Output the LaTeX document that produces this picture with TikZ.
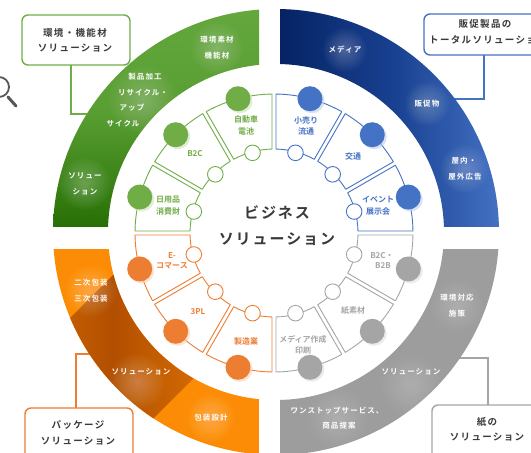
\documentclass[tikz,border=0pt]{standalone}
\usepackage{fontspec}
\setmainfont{Noto Sans CJK JP}[BoldFont={* Bold}]
\newfontfamily\jpb{Noto Sans CJK JP Bold}
\usetikzlibrary{shadings}
\definecolor{cg}{HTML}{70AD47}
\definecolor{cb}{HTML}{4472C4}
\definecolor{co}{HTML}{ED7D31}
\definecolor{cy}{HTML}{A5A5A5}
\definecolor{ink}{HTML}{3A3A3A}
\tikzset{
  bandtxt/.style={text=white,font=\fontsize{7.5}{8.5}\jpb\addfontfeature{LetterSpace=14},inner sep=0pt},
  innertxt/.style={font=\fontsize{8}{9}\jpb,inner sep=0pt},
  boxtxt/.style={text=ink,font=\fontsize{9.5}{11}\jpb\addfontfeature{LetterSpace=14},inner sep=0pt},
  titletxt/.style={text=ink,font=\fontsize{15}{17}\jpb\addfontfeature{LetterSpace=13},inner sep=0pt},
  callout/.style={draw=#1,line width=1.4pt,fill=white,rounded corners=6pt},
  lead/.style={draw=#1,line width=1.1pt}
}
% \seg{angle from}{angle to}{colour}
\newcommand{\seg}[3]{%
  \draw[#3,line width=.9pt,fill=white,line join=round]
    (#1+.82:139) arc[start angle=#1+.82,end angle=#2-.82,radius=139]
    -- (#2-1.36:84) arc[start angle=#2-1.36,end angle=#1+1.36,radius=84] -- cycle;
  \fill[#3!35,opacity=.6] ({(#1+#2)/2}:139) ++(2,-2) circle[radius=12.5];
  \fill[#3] ({(#1+#2)/2}:139) circle[radius=12.5];
  \draw[#3,line width=.9pt,fill=white] ({(#1+#2)/2}:83) circle[radius=7.8];
}
\newcommand{\ringpath}{(276,-232) circle[radius=223] (276,-232) circle[radius=168]}
\begin{document}
\begin{tikzpicture}[x=1pt,y=1pt]
\useasboundingbox (0,-453) rectangle (531,0);
\clip (0,-453) rectangle (531,0);
\fill[white] (0,-453) rectangle (531,0);

% magnifier
\draw[ink!85,line width=1.8pt] (-1,-87) circle[radius=10];
\draw[ink!85,line width=3pt,line cap=round] (8,-97) -- (16,-106);

% leader lines and callouts (under the bands)
\draw[lead=cg] (71,-60) -- (71,-114) -- (100,-114);
\draw[lead=cb] (484,-50) -- (484,-99) -- (445,-99);
\draw[lead=co] (76,-412) -- (76,-354) -- (102,-354);
\draw[lead=cy] (488,-410) -- (488,-358) -- (445,-358);
\draw[callout=cg] (22,-15) rectangle (130,-65);
\draw[callout=cb] (424,-14) rectangle (560,-55);
\draw[callout=co] (25,-408) rectangle (133,-480);
\draw[callout=cy] (432,-405) rectangle (560,-480);

% bands
\begin{scope}
\clip (0,0) rectangle (259,-226);
\begin{scope}[even odd rule]
\clip \ringpath;
\shade[bottom color={rgb,255:red,40;green,112;blue,5},
       top color={rgb,255:red,100;green,168;blue,62},
       middle color={rgb,255:red,88;green,158;blue,50}]
  (40,0) rectangle (259,-226);
\end{scope}
\end{scope}
\begin{scope}
\clip (280,0) rectangle (531,-226);
\begin{scope}[even odd rule]
\clip \ringpath;
\shade[shading angle=-45,
  left color={rgb,255:red,5;green,35;blue,100},
  right color={rgb,255:red,72;green,118;blue,200},
  middle color={rgb,255:red,25;green,65;blue,145}]
  (280,0) rectangle (510,-226);
\end{scope}
\end{scope}
\begin{scope}
\clip (0,-249) rectangle (259,-470);
\begin{scope}[even odd rule]
\clip \ringpath;
\fill[fill={rgb,255:red,252;green,140;blue,5}] (0,-249) rectangle (259,-470);
\node[rotate=-45,minimum width=130pt,minimum height=400pt,inner sep=0pt,
  left color={rgb,255:red,252;green,140;blue,5},
  right color={rgb,255:red,252;green,140;blue,5},
  middle color={rgb,255:red,178;green,78;blue,0}] at (112,-368) {};
\end{scope}
\end{scope}
\begin{scope}
\clip (280,-249) rectangle (531,-470);
\begin{scope}[even odd rule]
\clip \ringpath;
\fill[fill=cy!95!black] (280,-249) rectangle (531,-470);
\end{scope}
\end{scope}

% soft glows behind band text: stacked faint discs
\begin{scope}[even odd rule]
\clip \ringpath;
\foreach \x/\y/\s in {217/-48/26,143/-100/34,85/-184/26,345/-50/22,427/-104/22,465/-169/24,
  91/-291/26,137/-382/28,211/-418/24,457/-306/26,411/-385/30,338/-418/30}
  \foreach \k in {1,...,16}
    \fill[white,opacity=.02] (\x,\y) circle[radius=\s*\k/16];
\end{scope}

% band text
\node[bandtxt] at (217,-40) {環境素材};
\node[bandtxt] at (217,-56) {機能材};
\node[bandtxt] at (145,-77) {製品加工};
\node[bandtxt] at (143,-93) {リサイクル・};
\node[bandtxt] at (132,-108) {アップ};
\node[bandtxt] at (123,-124) {サイクル};
\node[bandtxt] at (85,-176) {ソリュー};
\node[bandtxt] at (85,-192) {ション};
\node[bandtxt] at (345,-50) {メディア};
\node[bandtxt] at (427,-104) {販促物};
\node[bandtxt] at (464,-161) {屋内・};
\node[bandtxt] at (465,-177) {屋外広告};
\node[bandtxt] at (91,-283) {二次包装};
\node[bandtxt] at (91,-299) {三次包装};
\node[bandtxt] at (141,-372) {ソリューション};
\node[bandtxt] at (211,-418) {包装設計};
\node[bandtxt] at (457,-298) {環境対応};
\node[bandtxt] at (457,-314) {施策};
\node[bandtxt] at (411,-372) {ソリューション};
\node[bandtxt] at (337,-411) {ワンストップサービス、};
\node[bandtxt] at (339,-426) {商品提案};

% inner ring
\begin{scope}[shift={(274,-233)}]
\seg{90}{120}{cg}\seg{120}{150}{cg}\seg{150}{180}{cg}
\seg{60}{90}{cb}\seg{30}{60}{cb}\seg{0}{30}{cb}
\seg{180}{210}{co}\seg{210}{240}{co}\seg{240}{270}{co}
\seg{270}{300}{cy}\seg{300}{330}{cy}\seg{330}{360}{cy}
\end{scope}

% inner labels
\begin{scope}[every node/.style={innertxt}]
\node[text=cg] at (246,-119) {自動車};
\node[text=cg] at (246,-131) {電池};
\node[text=cg] at (195,-154) {B2C};
\node[text=cg] at (168,-200) {日用品};
\node[text=cg] at (168,-211) {消費財};
\node[text=cb] at (306,-120) {小売り};
\node[text=cb] at (306,-131) {流通};
\node[text=cb] at (353,-156) {交通};
\node[text=cb] at (378,-199) {イベント};
\node[text=cb] at (378,-211) {展示会};
\node[text=co] at (172,-256) {E-};
\node[text=co] at (172,-266) {コマース};
\node[text=co] at (198,-312) {3PL};
\node[text=co] at (246,-341) {製造業};
\node[text=cy] at (303,-339) {メディア作成};
\node[text=cy] at (303,-350) {印刷};
\node[text=cy] at (353,-311) {紙素材};
\node[text=cy] at (382,-256) {B2C・};
\node[text=cy] at (383,-266) {B2B};
\end{scope}

% callout text
\node[boxtxt] at (75,-33) {環境・機能材};
\node[boxtxt] at (75,-48) {ソリューション};
\node[boxtxt] at (485,-24) {販促製品の};
\node[boxtxt] at (488,-40) {トータルソリューション};
\node[boxtxt] at (78,-425) {パッケージ};
\node[boxtxt] at (78,-441) {ソリューション};
\node[boxtxt] at (487,-422) {紙の};
\node[boxtxt] at (487,-437) {ソリューション};

% title
\node[titletxt] at (277,-213) {ビジネス};
\node[titletxt] at (277,-239) {ソリューション};
\end{tikzpicture}
\end{document}
